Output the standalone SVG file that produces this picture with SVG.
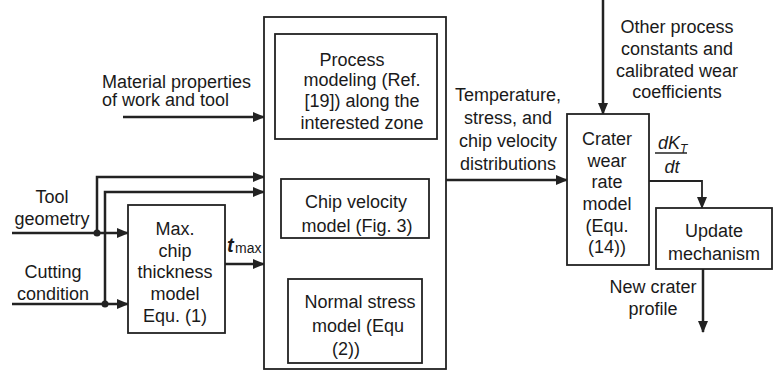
<svg xmlns="http://www.w3.org/2000/svg" width="781" height="382" viewBox="0 0 781 382">
<style>
.box{fill:#fff;stroke:#222;stroke-width:1.8}
.ln{fill:none;stroke:#222;stroke-width:2.5}
text{font-family:"Liberation Sans",Arial,sans-serif;font-size:18px;fill:#1a1a1a}
.c{text-anchor:middle}
</style>
<defs>
<marker id="ah" markerWidth="12" markerHeight="10" refX="11" refY="5" orient="auto" markerUnits="userSpaceOnUse">
<path d="M0,0 L12,5 L0,10 Z" fill="#222"/>
</marker>
</defs>
<rect width="781" height="382" fill="#fff"/>
<g id="connectors">
<line class="ln" x1="123" y1="117" x2="264" y2="117" marker-end="url(#ah)"/>
<line class="ln" x1="12" y1="233" x2="128" y2="233" marker-end="url(#ah)"/>
<polyline class="ln" points="97,233 97,177 264,177" marker-end="url(#ah)"/>
<line class="ln" x1="12" y1="304" x2="128" y2="304" marker-end="url(#ah)"/>
<polyline class="ln" points="105,304 105,192 264,192" marker-end="url(#ah)"/>
<circle cx="97" cy="233" r="3.5" fill="#222"/>
<circle cx="105" cy="304" r="3.5" fill="#222"/>
<line class="ln" x1="225" y1="264" x2="264" y2="264" marker-end="url(#ah)"/>
<line class="ln" x1="446" y1="180" x2="567" y2="180" marker-end="url(#ah)"/>
<line class="ln" x1="603" y1="0" x2="603" y2="114" marker-end="url(#ah)"/>
<polyline class="ln" points="649,181 702,181 702,208" marker-end="url(#ah)" style="stroke-width:1.8"/>
<line class="ln" x1="703" y1="269" x2="703" y2="332" marker-end="url(#ah)"/>
</g>
<g id="labels">
<text x="102" y="88">Material properties</text>
<text x="102" y="106">of work and tool</text>
<text class="c" x="52" y="203">Tool</text>
<text class="c" x="52" y="225">geometry</text>
<text class="c" x="53" y="278">Cutting</text>
<text class="c" x="53" y="300">condition</text>
<text x="227" y="252" style="font-style:italic;font-weight:bold;font-size:20px">t</text>
<text x="235" y="253" style="font-size:14px">max</text>
<text class="c" x="508" y="101">Temperature,</text>
<text class="c" x="508" y="124">stress, and</text>
<text class="c" x="508" y="147">chip velocity</text>
<text class="c" x="508" y="170">distributions</text>
<text class="c" x="677" y="33">Other process</text>
<text class="c" x="677" y="55">constants and</text>
<text class="c" x="677" y="77">calibrated wear</text>
<text class="c" x="677" y="98">coefficients</text>
<text x="658" y="149" style="font-style:italic">dK<tspan dy="4" style="font-size:12px">T</tspan></text>
<line x1="655" y1="153" x2="687" y2="153" stroke="#222" stroke-width="1.5"/>
<text class="c" x="672" y="173" style="font-style:italic">dt</text>
<text class="c" x="653" y="293">New crater</text>
<text class="c" x="653" y="315">profile</text>
</g>
<g id="main-box">
<rect class="box" x="264" y="17" width="182" height="352"/>
</g>
<g id="process-modeling">
<rect class="box" x="275" y="34" width="162" height="105"/>
<text class="c" x="352" y="66">Process</text>
<text class="c" x="362" y="86">modeling (Ref.</text>
<text class="c" x="362" y="107">[19]) along the</text>
<text class="c" x="362" y="129">interested zone</text>
</g>
<g id="chip-velocity">
<rect class="box" x="281" y="179" width="148" height="59"/>
<text class="c" x="356" y="208">Chip velocity</text>
<text class="c" x="357" y="232">model (Fig. 3)</text>
</g>
<g id="normal-stress">
<rect class="box" x="288" y="279" width="134" height="84"/>
<text class="c" x="360" y="308">Normal stress</text>
<text class="c" x="358" y="332">model (Equ</text>
<text class="c" x="346" y="355">(2))</text>
</g>
<g id="max-chip">
<rect class="box" x="128" y="205" width="97" height="128"/>
<text class="c" x="175" y="235">Max.</text>
<text class="c" x="175" y="257">chip</text>
<text class="c" x="175" y="278">thickness</text>
<text class="c" x="175" y="300">model</text>
<text class="c" x="175" y="322">Equ. (1)</text>
</g>
<g id="crater-wear">
<rect class="box" x="567" y="114" width="82" height="151"/>
<text class="c" x="607" y="145">Crater</text>
<text class="c" x="607" y="167">wear</text>
<text class="c" x="607" y="188">rate</text>
<text class="c" x="607" y="210">model</text>
<text class="c" x="607" y="232">(Equ.</text>
<text class="c" x="607" y="253">(14))</text>
</g>
<g id="update-mechanism">
<rect class="box" x="656" y="208" width="116" height="61"/>
<text class="c" x="714" y="237">Update</text>
<text class="c" x="714" y="260">mechanism</text>
</g>
</svg>
